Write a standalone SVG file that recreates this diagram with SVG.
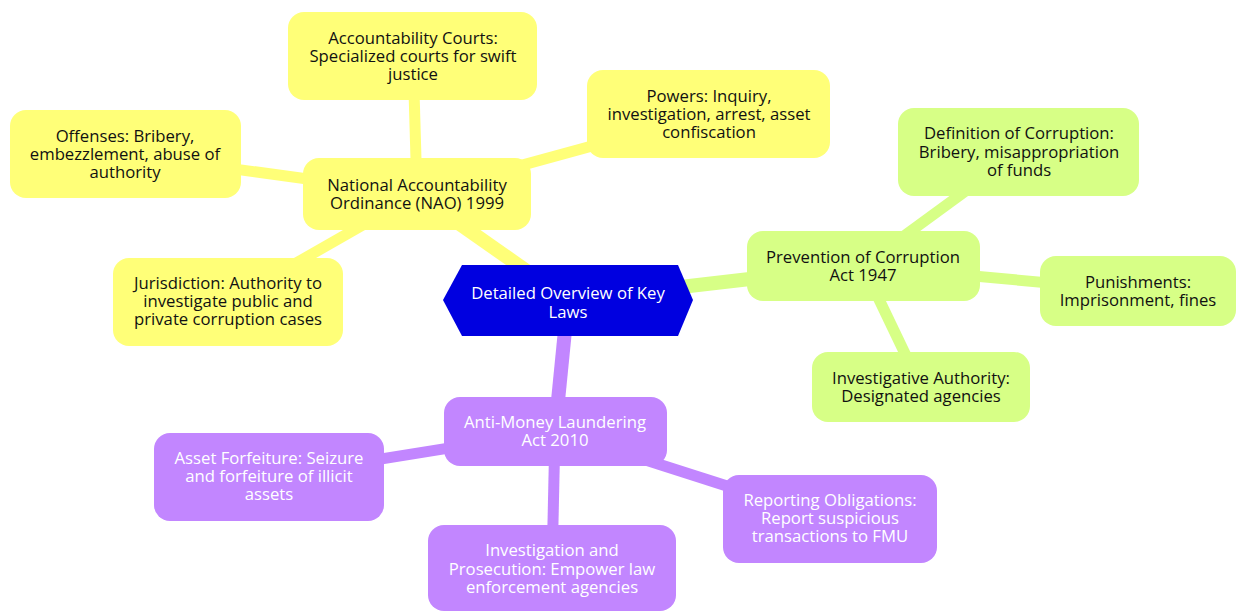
<svg xmlns="http://www.w3.org/2000/svg" width="1236" height="612" viewBox="0 0 1236 612">
<style>
text { font-family: "Open Sans", "Liberation Sans", sans-serif; font-size: 16.7px; text-anchor: middle; }
.y rect { fill: #ffff78; }
.g rect { fill: #d7ff86; }
.p rect { fill: #c286ff; }
.y text, .g text { fill: #111111; }
.p text, .root text { fill: #ffffff; }
.ey { stroke: #ffff78; }
.eg { stroke: #d7ff86; }
.ep { stroke: #c286ff; }
.d1 { stroke-width: 14; }
.d2 { stroke-width: 11; }
line { stroke-linecap: butt; }
</style>
<rect width="1236" height="612" fill="#ffffff"/>
<g id="connectors">
  <line class="ey d1" x1="568" y1="300" x2="417" y2="194"/>
  <line class="eg d1" x1="568" y1="300" x2="863" y2="266"/>
  <line class="ep d1" x1="568" y1="300" x2="555" y2="431"/>
  <line class="ey d2" x1="417" y1="194" x2="413" y2="56"/>
  <line class="ey d2" x1="417" y1="194" x2="709" y2="114"/>
  <line class="ey d2" x1="417" y1="194" x2="125" y2="154"/>
  <line class="ey d2" x1="417" y1="194" x2="228" y2="302"/>
  <line class="eg d2" x1="863" y1="266" x2="1019" y2="152"/>
  <line class="eg d2" x1="863" y1="266" x2="1138" y2="291"/>
  <line class="eg d2" x1="863" y1="266" x2="921" y2="387"/>
  <line class="ep d2" x1="555" y1="431" x2="269" y2="477"/>
  <line class="ep d2" x1="555" y1="431" x2="830" y2="519"/>
  <line class="ep d2" x1="555" y1="431" x2="552" y2="568"/>
</g>
<g id="root" class="root">
  <polygon points="443,300 462,265 678,265 693,300 678,336 462,336" fill="#0000e0"/>
  <text x="568" y="299">Detailed Overview of Key</text>
  <text x="568" y="318">Laws</text>
</g>
<g id="nao" class="y">
  <rect x="303" y="158" width="228" height="72" rx="16"/>
  <text x="417" y="191">National Accountability</text>
  <text x="417" y="209">Ordinance (NAO) 1999</text>
</g>
<g id="courts" class="y">
  <rect x="288" y="12" width="249" height="88" rx="16"/>
  <text x="413" y="44">Accountability Courts:</text>
  <text x="413" y="62">Specialized courts for swift</text>
  <text x="413" y="80">justice</text>
</g>
<g id="powers" class="y">
  <rect x="587" y="70" width="243" height="88" rx="16"/>
  <text x="709" y="102">Powers: Inquiry,</text>
  <text x="709" y="120">investigation, arrest, asset</text>
  <text x="709" y="138">confiscation</text>
</g>
<g id="offenses" class="y">
  <rect x="10" y="110" width="231" height="88" rx="16"/>
  <text x="125" y="142">Offenses: Bribery,</text>
  <text x="125" y="160">embezzlement, abuse of</text>
  <text x="125" y="178">authority</text>
</g>
<g id="jurisdiction" class="y">
  <rect x="113" y="258" width="230" height="88" rx="16"/>
  <text x="228" y="289">Jurisdiction: Authority to</text>
  <text x="228" y="307">investigate public and</text>
  <text x="228" y="325">private corruption cases</text>
</g>
<g id="prevention" class="g">
  <rect x="747" y="231" width="233" height="70" rx="16"/>
  <text x="863" y="263">Prevention of Corruption</text>
  <text x="863" y="281">Act 1947</text>
</g>
<g id="definition" class="g">
  <rect x="898" y="108" width="241" height="88" rx="16"/>
  <text x="1019" y="139">Definition of Corruption:</text>
  <text x="1019" y="158">Bribery, misappropriation</text>
  <text x="1019" y="176">of funds</text>
</g>
<g id="punishments" class="g">
  <rect x="1040" y="256" width="196" height="70" rx="16"/>
  <text x="1138" y="288">Punishments:</text>
  <text x="1138" y="306">Imprisonment, fines</text>
</g>
<g id="investigative" class="g">
  <rect x="812" y="352" width="218" height="70" rx="16"/>
  <text x="921" y="384">Investigative Authority:</text>
  <text x="921" y="402">Designated agencies</text>
</g>
<g id="aml" class="p">
  <rect x="444" y="397" width="223" height="69" rx="16"/>
  <text x="555" y="428">Anti-Money Laundering</text>
  <text x="555" y="446">Act 2010</text>
</g>
<g id="forfeiture" class="p">
  <rect x="154" y="433" width="230" height="88" rx="16"/>
  <text x="269" y="464">Asset Forfeiture: Seizure</text>
  <text x="269" y="482">and forfeiture of illicit</text>
  <text x="269" y="500">assets</text>
</g>
<g id="reporting" class="p">
  <rect x="723" y="475" width="214" height="88" rx="16"/>
  <text x="830" y="506">Reporting Obligations:</text>
  <text x="830" y="524">Report suspicious</text>
  <text x="830" y="542">transactions to FMU</text>
</g>
<g id="prosecution" class="p">
  <rect x="428" y="525" width="248" height="86" rx="16"/>
  <text x="552" y="556">Investigation and</text>
  <text x="552" y="575">Prosecution: Empower law</text>
  <text x="552" y="593">enforcement agencies</text>
</g>
</svg>
